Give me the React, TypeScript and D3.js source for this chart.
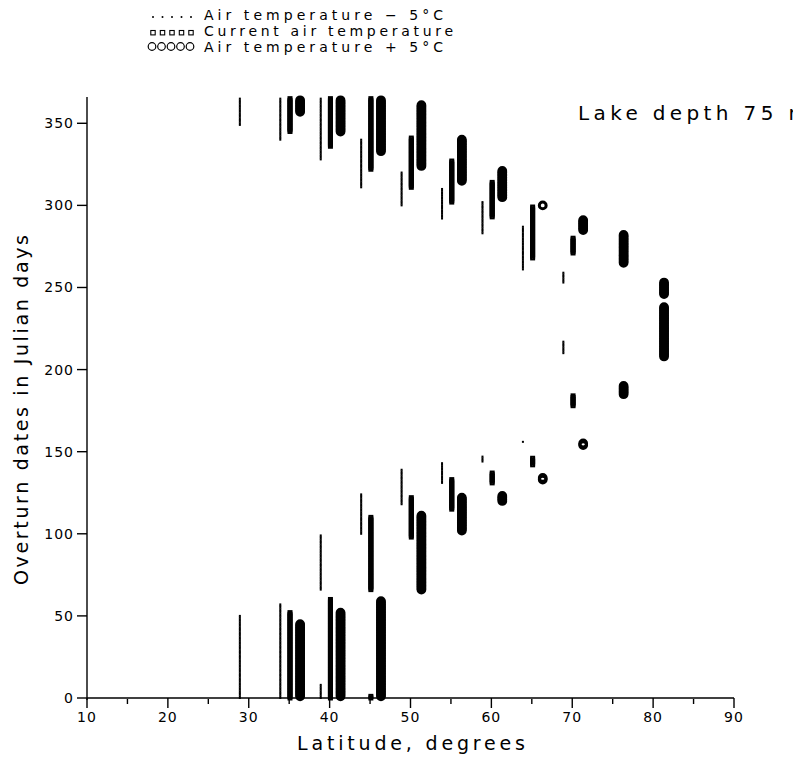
import React from "react";
import * as d3 from "d3";

// ---------- data ----------
// Segments of overturn (mixing) periods: [latitude group, first day, last day]
const coolerRanges: [number, number, number][] = [
  [30, 349, 365], [30, 0, 50],
  [35, 340, 365], [35, 0, 57],
  [40, 328, 365], [40, 0, 8], [40, 66, 99],
  [45, 311, 340], [45, 100, 124],
  [50, 300, 320], [50, 118, 139],
  [55, 292, 310], [55, 131, 143],
  [60, 283, 302], [60, 144, 147],
  [65, 261, 287], [65, 156, 156],
  [70, 253, 259], [70, 210, 217],
];
const currentRanges: [number, number, number][] = [
  [35, 345, 365], [35, 0, 52],
  [40, 336, 365], [40, 0, 60],
  [45, 322, 365], [45, 0, 1], [45, 66, 110],
  [50, 311, 341], [50, 98, 122],
  [55, 302, 327], [55, 115, 133],
  [60, 293, 314], [60, 131, 137],
  [65, 268, 299], [65, 142, 146],
  [70, 271, 280], [70, 178, 184],
];
const warmerRanges: [number, number, number][] = [
  [35, 357, 364], [35, 1, 45],
  [40, 345, 364], [40, 1, 52],
  [45, 333, 364], [45, 1, 59],
  [50, 324, 361], [50, 66, 111],
  [55, 315, 340], [55, 102, 122],
  [60, 305, 321], [60, 120, 123],
  [65, 300, 300], [65, 133, 134],
  [70, 285, 291], [70, 154, 155],
  [75, 265, 282], [75, 185, 190],
  [80, 246, 253], [80, 208, 238],
];
const xTicks = [10, 20, 30, 40, 50, 60, 70, 80, 90];
const xMinorTicks = [15, 25, 35, 45, 55, 65, 75, 85];
const yTicks = [0, 50, 100, 150, 200, 250, 300, 350];
const legendLabels = [
  "Air temperature \u2212 5\u00B0C",
  "Current air temperature",
  "Air temperature + 5\u00B0C",
];
const panelLabel = "Lake depth 75 m";
const xTitle = "Latitude, degrees";
const yTitle = "Overturn dates in Julian days";

// ---------- layout ----------
const W = 793;
const H = 760;
const FONT = "'DejaVu Sans', 'Liberation Sans', sans-serif";
const x = d3.scaleLinear().domain([10, 90]).range([87, 734]);
const y = d3.scaleLinear().domain([0, 366]).range([698, 97]);
const OFFSET = { cooler: -1.1, current: 0.1, warmer: 1.35 };
const legendWidths = [239, 249, 239];

function days(start: number, end: number) {
  return d3.range(start, end + 1, 1);
}

export default function App() {
  const cooler = coolerRanges.flatMap(([lat, s, e], i) =>
    days(s, e).map((d) => (
      <rect
        key={`c${i}-${d}`}
        x={x(lat + OFFSET.cooler) - 1}
        y={y(d) - 1}
        width={2}
        height={2}
        fill="#000"
      />
    ))
  );
  const current = currentRanges.flatMap(([lat, s, e], i) =>
    days(s, e).map((d) => (
      <rect
        key={`m${i}-${d}`}
        x={x(lat + OFFSET.current) - 1.5}
        y={y(d) - 1.5}
        width={3}
        height={3}
        fill="none"
        stroke="#000"
        strokeWidth={2}
      />
    ))
  );
  const warmer = warmerRanges.flatMap(([lat, s, e], i) =>
    days(s, e).map((d) => (
      <circle
        key={`w${i}-${d}`}
        cx={x(lat + OFFSET.warmer)}
        cy={y(d)}
        r={3.4}
        fill="none"
        stroke="#000"
        strokeWidth={3}
      />
    ))
  );

  const legendY = [15, 31, 47];
  const legendX0 = 153;
  const legendStep = 9.5;
  const legendTextX = 204;

  return (
    <svg
      width={W}
      height={H}
      style={{ position: "absolute", left: 0, top: 0, background: "#fff" }}
      fontFamily={FONT}
    >
      <rect x={0} y={0} width={W} height={H} fill="#fff" />
      {/* legend */}
      {d3.range(5).map((i) => (
        <circle key={`ld${i}`} cx={legendX0 + i * legendStep} cy={legendY[0] + 2} r={1} fill="#000" />
      ))}
      {d3.range(5).map((i) => (
        <rect
          key={`ls${i}`}
          x={legendX0 + i * legendStep - 2.2}
          y={legendY[1] - 0.5}
          width={4.4}
          height={4.4}
          fill="none"
          stroke="#000"
          strokeWidth={1.1}
        />
      ))}
      {d3.range(5).map((i) => (
        <circle
          key={`lc${i}`}
          cx={legendX0 - 1 + i * legendStep}
          cy={legendY[2] - 0.5}
          r={3.8}
          fill="none"
          stroke="#000"
          strokeWidth={1.2}
        />
      ))}
      {legendLabels.map((t, i) => (
        <text
          key={`lt${i}`}
          x={legendTextX}
          y={legendY[i] + 5}
          fontSize={14}
          textLength={legendWidths[i]}
          lengthAdjust="spacing"
          fill="#000"
        >
          {t}
        </text>
      ))}

      {/* axes */}
      <line x1={x(10)} x2={x(90)} y1={y(0)} y2={y(0)} stroke="#000" strokeWidth={1.4} />
      <line x1={x(10)} x2={x(10)} y1={y(0) + 2} y2={y(366)} stroke="#000" strokeWidth={1.4} />
      {xTicks.map((t) => (
        <g key={`xt${t}`}>
          <line x1={x(t)} x2={x(t)} y1={y(0)} y2={y(0) + 10} stroke="#000" strokeWidth={1.4} />
          <text x={x(t)} y={y(0) + 24} fontSize={14} textAnchor="middle" letterSpacing={1}>
            {t}
          </text>
        </g>
      ))}
      {xMinorTicks.map((t) => (
        <line key={`xm${t}`} x1={x(t)} x2={x(t)} y1={y(0) + 1} y2={y(0) + 6} stroke="#000" strokeWidth={1.4} />
      ))}
      {yTicks.map((t) => (
        <g key={`yt${t}`}>
          <line x1={x(10) - 10} x2={x(10)} y1={y(t)} y2={y(t)} stroke="#000" strokeWidth={1.4} />
          <text x={x(10) - 13} y={y(t) + 5} fontSize={14} textAnchor="end" letterSpacing={1}>
            {t}
          </text>
        </g>
      ))}
      <text x={411} y={750} fontSize={19} textAnchor="middle" textLength={228} lengthAdjust="spacing">
        {xTitle}
      </text>
      <text
        transform={`translate(28, 410) rotate(-90)`}
        fontSize={19}
        textAnchor="middle"
        textLength={350}
        lengthAdjust="spacing"
      >
        {yTitle}
      </text>
      <text x={578} y={120} fontSize={20} textLength={230} lengthAdjust="spacing">
        {panelLabel}
      </text>

      {/* marks */}
      <g>{cooler}</g>
      <g>{current}</g>
      <g>{warmer}</g>
    </svg>
  );
}
